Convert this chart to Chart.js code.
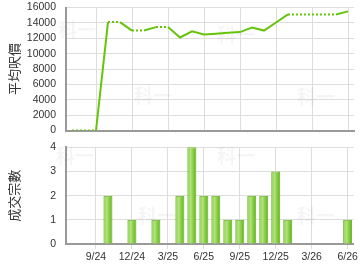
<!DOCTYPE html>
<html>
<head>
<meta charset="utf-8">
<script src="https://cdn.jsdelivr.net/npm/chart.js@4"></script>
<style>
  body { margin: 0; background: #fff; }
  #wrap { position: relative; width: 360px; height: 270px; }
  .box { position: absolute; left: 0; width: 360px; height: 135px; }
</style>
</head>
<body>
<div id="wrap">
  <div class="box" style="top:0"><canvas id="priceChart"></canvas></div>
  <div class="box" style="top:135px"><canvas id="dealChart"></canvas></div>
</div>
<script>
// months on the x axis
const months = ['7/24','8/24','9/24','10/24','11/24','12/24','1/25','2/25','3/25','4/25','5/25','6/25',
                '7/25','8/25','9/25','10/25','11/25','12/25','1/26','2/26','3/26','4/26','5/26','6/26'];
// average price per sq ft
const avgPrice = [0,0,0,14100,14100,13000,13000,13450,13450,12100,12900,12500,
                  12600,12700,12800,13400,13000,14050,15100,15100,15100,15100,15100,15500];
// number of deals
const deals = [0,0,0,2,0,1,0,1,0,2,4,2,2,1,1,2,2,3,1,0,0,0,0,1];

const tickFont = { family: 'Liberation Sans, Arial, sans-serif', size: 10.5 };
const titleFont = { family: 'Noto Sans CJK TC, sans-serif', size: 13 };
const gridColor = '#dddddd';
const axisColor = '#999999';

// faint watermark text
function watermark(spots) {
  return {
    id: 'wm',
    beforeDatasetsDraw(chart) {
      const c = chart.ctx;
      c.save();
      c.font = 'bold 19px "Noto Sans CJK TC", sans-serif';
      c.fillStyle = 'rgba(0,0,0,0.04)';
      c.textAlign = 'center';
      c.textBaseline = 'middle';
      spots.forEach(p => c.fillText('科一', p[0], p[1]));
      c.restore();
    }
  };
}

function xScale(showLabels, height) {
  return {
    type: 'category',
    offset: true,
    grid: {
      offset: false,
      color: c => (c.index % 3 === 2 ? gridColor : 'rgba(0,0,0,0)'),
      tickLength: showLabels ? 5 : 0,
      drawTicks: showLabels
    },
    border: { color: axisColor, width: 2 },
    ticks: {
      display: showLabels,
      autoSkip: false,
      maxRotation: 0,
      padding: 2,
      color: '#333',
      font: tickFont,
      callback: (v, i) => (i % 3 === 2 ? months[i] : '')
    },
    afterFit: s => { s.height = height; }
  };
}

function yScale(title, max, step, padTop) {
  return {
    min: 0,
    max: max,
    grid: { color: gridColor, drawTicks: false },
    border: { color: axisColor, width: 2 },
    ticks: {
      stepSize: step,
      autoSkip: false,
      padding: 10,
      color: '#333',
      font: tickFont,
      callback: v => String(v)
    },
    title: { display: true, text: title, color: '#333', font: titleFont, padding: { top: 6, bottom: 0 } },
    afterFit: s => { s.width = 66; s.paddingTop = padTop; s.paddingBottom = 0; }
  };
}

new Chart(document.getElementById('priceChart'), {
  type: 'line',
  data: {
    labels: months,
    datasets: [{
      data: avgPrice,
      borderColor: '#66c40a',
      borderWidth: 2,
      pointRadius: 0,
      tension: 0,
      segment: {
        // dotted where the month had no deals
        borderDash: c => (deals[c.p1DataIndex] > 0 ? undefined : [2, 2])
      }
    }]
  },
  options: {
    responsive: true,
    maintainAspectRatio: false,
    animation: false,
    layout: { padding: { left: 0, right: 6, top: 0, bottom: 0 } },
    plugins: { legend: { display: false }, tooltip: { enabled: false } },
    scales: {
      x: xScale(false, 4.5),
      y: yScale('平均呎價', 16000, 2000, 7.5)
    }
  },
  plugins: [watermark([[77, 30], [153, 96], [236, 35], [316, 97]])]
});

new Chart(document.getElementById('dealChart'), {
  type: 'bar',
  data: {
    labels: months,
    datasets: [{
      data: deals.map(v => (v > 0 ? v : null)),
      barPercentage: 0.75,
      categoryPercentage: 1,
      borderWidth: 1,
      borderColor: '#5fae1a',
      borderSkipped: 'bottom',
      backgroundColor: c => {
        const xs = c.chart.scales.x;
        if (!xs || c.dataIndex == null) return '#8fd04a';
        const cx = xs.getPixelForValue(c.dataIndex);
        if (!Number.isFinite(cx)) return '#8fd04a';
        const g = c.chart.ctx.createLinearGradient(cx - 4.5, 0, cx + 4.5, 0);
        g.addColorStop(0, '#78c636');
        g.addColorStop(0.35, '#b4e27e');
        g.addColorStop(0.7, '#7fcb3a');
        g.addColorStop(1, '#5fae1a');
        return g;
      }
    }]
  },
  options: {
    responsive: true,
    maintainAspectRatio: false,
    animation: false,
    layout: { padding: { left: 0, right: 6, top: 0, bottom: 0 } },
    plugins: { legend: { display: false }, tooltip: { enabled: false } },
    scales: {
      x: xScale(true, 26),
      y: yScale('成交宗數', 4, 1, 12.3)
    }
  },
  plugins: [watermark([[75, 21], [157, 81], [236, 21], [316, 81]])]
});
</script>
</body>
</html>
